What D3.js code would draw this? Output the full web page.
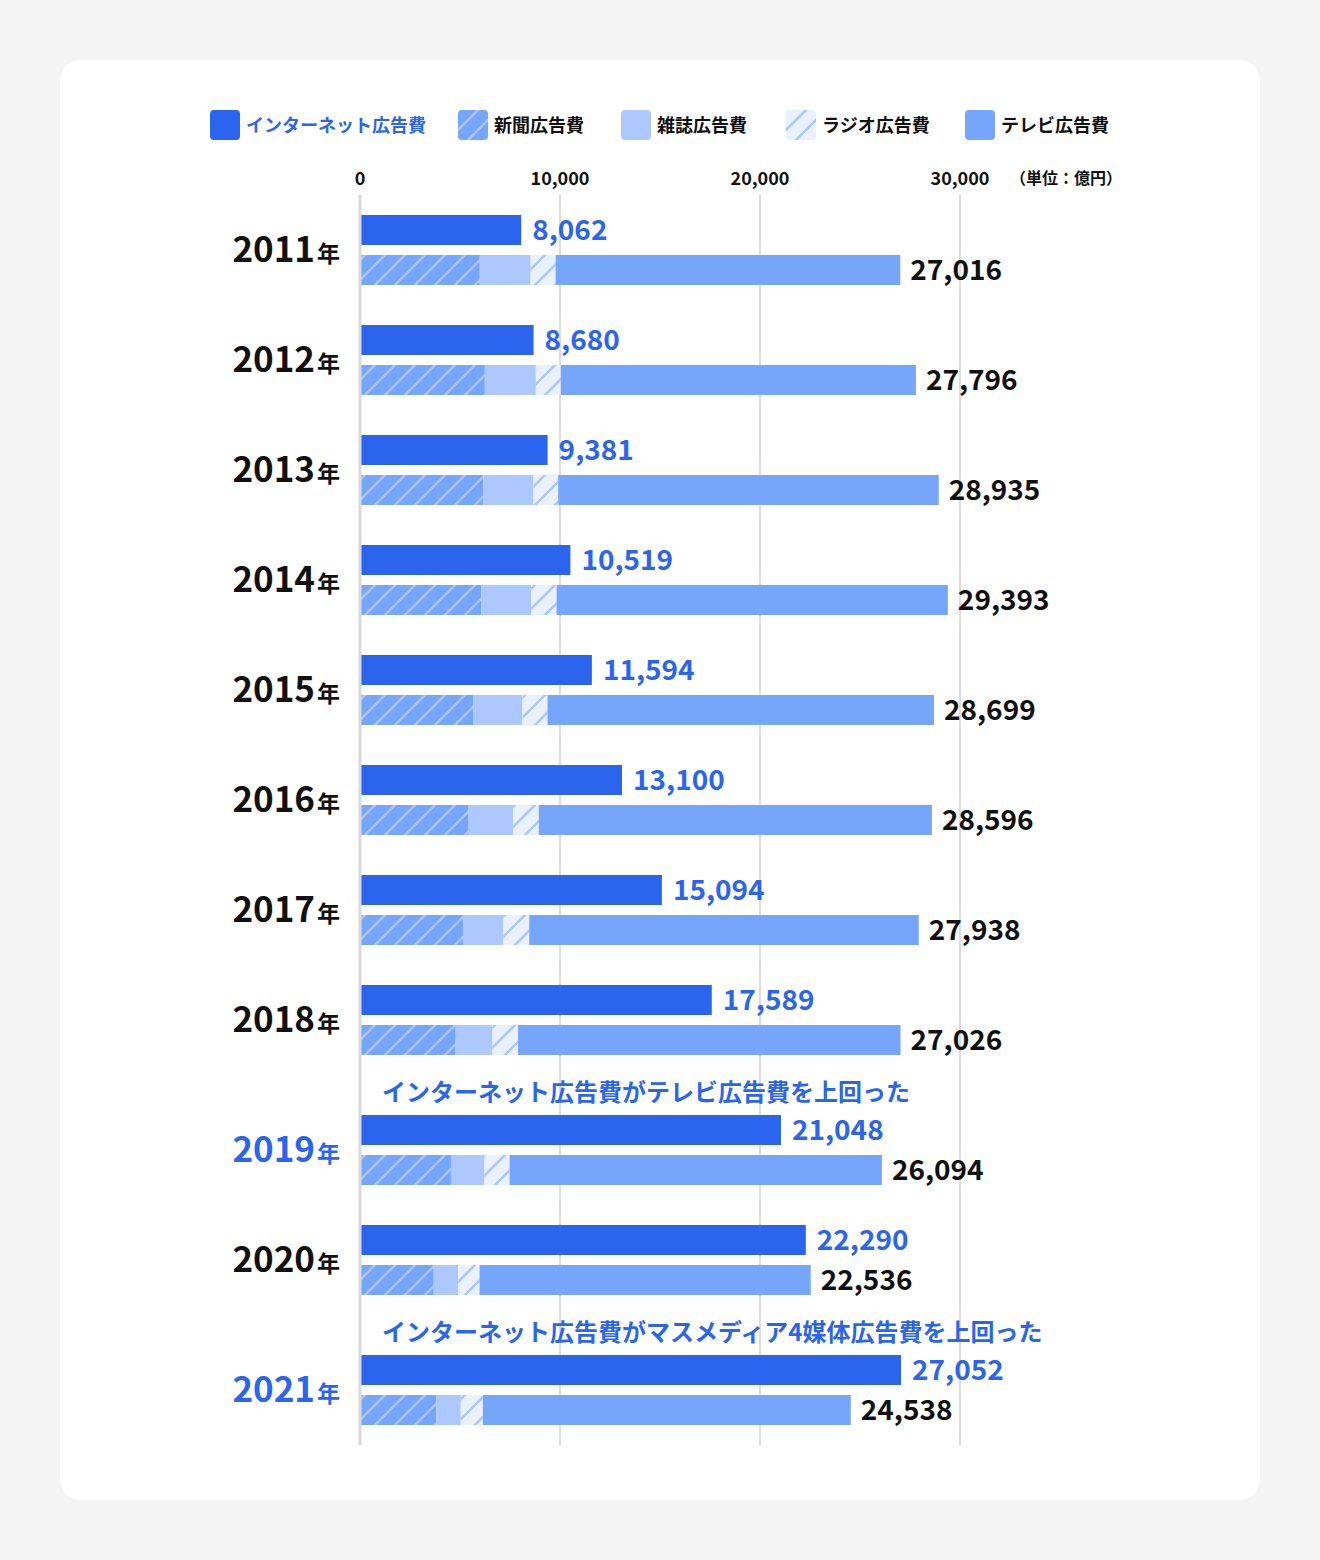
<!DOCTYPE html>
<html><head><meta charset="utf-8">
<script src="https://cdn.jsdelivr.net/npm/d3@7"></script>
<style>
html,body{margin:0;padding:0;background:#f5f4f5;}
svg{display:block;font-family:"Noto Sans CJK JP","Noto Sans",sans-serif;}
</style></head>
<body>
<svg id="chart" width="1320" height="1560"></svg>
<script>
const years = ["2011","2012","2013","2014","2015","2016","2017","2018","2019","2020","2021"];
const internet = [8062, 8680, 9381, 10519, 11594, 13100, 15094, 17589, 21048, 22290, 27052];
const newspaper = [5990, 6242, 6170, 6057, 5679, 5431, 5147, 4784, 4547, 3688, 3815];
const magazine = [2542, 2551, 2499, 2500, 2443, 2223, 2023, 1841, 1675, 1223, 1224];
const radio = [1247, 1246, 1243, 1272, 1254, 1285, 1290, 1278, 1260, 1066, 1106];
const tv = [17237, 17757, 19023, 19564, 19323, 19657, 19478, 19123, 18612, 16559, 18393];
const highlightYears = ["2019", "2021"];
const notes = {"2019": "インターネット広告費がテレビ広告費を上回った", "2021": "インターネット広告費がマスメディア4媒体広告費を上回った"};
const legendLabels = ["インターネット広告費", "新聞広告費", "雑誌広告費", "ラジオ広告費", "テレビ広告費"];
const tickValues = [0, 10000, 20000, 30000];
const unitLabel = "（単位：億円）";

const BLUE = "#2b65ed", TVC = "#76a5fc", MAG = "#adc8fe", RADIO = "#e9f1fe", HATCH = "#a9c6fd";
const svg = d3.select("#chart");
const defs = svg.append("defs");
function hatch(id, bg) {
  const p = defs.append("pattern").attr("id", id).attr("patternUnits", "userSpaceOnUse")
    .attr("width", 20).attr("height", 20);
  p.append("rect").attr("width", 20).attr("height", 20).attr("fill", bg);
  p.append("path").attr("d", "M-5,5 L5,-5 M0,20 L20,0 M15,25 L25,15")
    .attr("stroke", HATCH).attr("stroke-width", 2.4);
}
hatch("hNews", TVC);
hatch("hRadio", RADIO);

svg.append("rect").attr("x", 60).attr("y", 60).attr("width", 1200).attr("height", 1440)
  .attr("rx", 20).attr("fill", "#fff");

const x = d3.scaleLinear().domain([0, 30000]).range([360, 960]);

// legend
const legendFills = [BLUE, "url(#hNews)", MAG, "url(#hRadio)", TVC];
const legendX = [210, 458, 621, 786, 965];
legendLabels.forEach((l, i) => {
  const g = svg.append("g").attr("transform", `translate(${legendX[i]},110)`);
  g.append("rect").attr("width", 30).attr("height", 30).attr("rx", 4).attr("fill", legendFills[i]);
  g.append("text").attr("x", 36).attr("y", 21.5).attr("font-size", 18).attr("font-weight", 700)
    .attr("fill", i === 0 ? BLUE : "#111").text(l);
});

// row positions
const rowTop = [];
let yCur = 215;
years.forEach((yr, i) => {
  if (i > 0) yCur += 110;
  if (notes[yr]) yCur += 20;
  rowTop.push(yCur);
});

// axis ticks & grid
const gridTop = 195, gridBottom = 1445;
svg.append("g").selectAll("line").data(tickValues.slice(1)).join("line")
  .attr("x1", d => x(d)).attr("x2", d => x(d)).attr("y1", gridTop).attr("y2", gridBottom)
  .attr("stroke", "#dcdcdc").attr("stroke-width", 2);
svg.append("g").selectAll("text").data(tickValues).join("text")
  .attr("x", d => x(d)).attr("y", 185).attr("text-anchor", "middle")
  .attr("font-size", 18).attr("font-weight", 700).attr("fill", "#111")
  .text(d => d3.format(",")(d));
svg.append("text").attr("x", 1066).attr("y", 184).attr("text-anchor", "middle")
  .attr("font-size", 16).attr("font-weight", 700).attr("fill", "#111").text(unitLabel);

// rows
years.forEach((yr, i) => {
  const t = rowTop[i];
  const hl = highlightYears.includes(yr);
  if (notes[yr]) {
    svg.append("text").attr("x", 382).attr("y", t - 14).attr("font-size", 24).attr("font-weight", 700)
      .attr("fill", BLUE).text(notes[yr]);
  }
  const yl = svg.append("text").attr("x", 340).attr("y", t + 47).attr("text-anchor", "end")
    .attr("font-weight", 700).attr("fill", hl ? BLUE : "#111");
  yl.append("tspan").attr("font-size", 35).text(yr);
  yl.append("tspan").attr("font-size", 23).attr("dx", 2).text("年");

  svg.append("rect").attr("x", x(0)).attr("y", t).attr("width", x(internet[i]) - x(0)).attr("height", 30)
    .attr("fill", BLUE);
  svg.append("text").attr("x", x(internet[i]) + 11).attr("y", t + 25).attr("font-size", 28)
    .attr("font-weight", 700).attr("fill", BLUE).text(d3.format(",")(internet[i]));

  const segs = [[newspaper[i], "url(#hNews)"], [magazine[i], MAG], [radio[i], "url(#hRadio)"], [tv[i], TVC]];
  let acc = 0;
  segs.forEach(([v, f]) => {
    svg.append("rect").attr("x", x(acc)).attr("y", t + 40).attr("width", x(acc + v) - x(acc))
      .attr("height", 30).attr("fill", f);
    acc += v;
  });
  svg.append("text").attr("x", x(acc) + 10).attr("y", t + 65).attr("font-size", 28)
    .attr("font-weight", 700).attr("fill", "#111").text(d3.format(",")(acc));
});

// zero axis line
svg.append("line").attr("x1", x(0)).attr("x2", x(0)).attr("y1", gridTop).attr("y2", gridBottom)
  .attr("stroke", "#d9d9d9").attr("stroke-width", 3);
</script>
</body></html>
